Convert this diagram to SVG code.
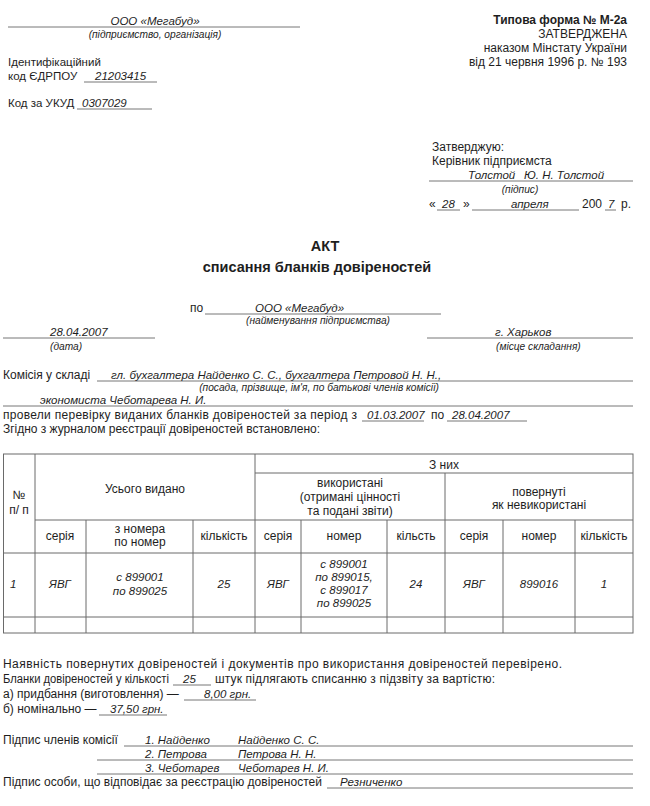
<svg xmlns="http://www.w3.org/2000/svg" width="650" height="806" viewBox="0 0 650 806">
<style>
text{font-family:"Liberation Sans",Arial,sans-serif;font-size:12px;fill:#1e1e1e}
.i{font-style:italic;font-size:11.5px}
.s{font-size:10.2px;font-style:italic}
.b{font-weight:bold}
.c{text-anchor:middle}
.r{text-anchor:end}
.h{font-size:11.5px}
.u{stroke:#666;stroke-width:0.9;fill:none}
.t{stroke:#6a6a6a;stroke-width:1;fill:none}
</style>
<rect width="650" height="806" fill="#fff"/>

<g id="header-left">
<line class="u" x1="8" y1="27" x2="300" y2="27"/>
<text class="i c" x="155" y="25">ООО «Мегабуд»</text>
<text class="s c" x="155" y="38">(підприємство, організація)</text>
<text class="h" x="8" y="66">Ідентифікаційний</text>
<text class="h" x="8" y="80">код ЄДРПОУ</text>
<line class="u" x1="84" y1="82" x2="157" y2="82"/>
<text class="i" x="95" y="80">21203415</text>
<text class="h" x="8" y="107">Код за УКУД</text>
<line class="u" x1="77" y1="109" x2="152" y2="109"/>
<text class="i" x="82" y="107">0307029</text>
</g>

<g id="header-right">
<text class="b r" x="627" y="24">Типова форма № М-2а</text>
<text class="r" x="627" y="38">ЗАТВЕРДЖЕНА</text>
<text class="r" x="627" y="52">наказом Мінстату України</text>
<text class="r" x="627" y="66">від 21 червня 1996 р. № 193</text>
</g>

<g id="approval">
<text x="432" y="151">Затверджую:</text>
<text x="432" y="165">Керівник підприємста</text>
<line class="u" x1="429" y1="181" x2="633" y2="181"/>
<text class="i" x="468" y="179">Толстой</text>
<text class="i" x="524" y="179">Ю. Н. Толстой</text>
<text class="s c" x="520" y="193">(підпис)</text>
<text x="429" y="208">«</text>
<line class="u" x1="437" y1="210" x2="460" y2="210"/>
<text class="i" x="442" y="208">28</text>
<text x="463" y="208">»</text>
<line class="u" x1="472" y1="210" x2="579" y2="210"/>
<text class="i" x="511" y="208">апреля</text>
<text x="582" y="208">200</text>
<line class="u" x1="605" y1="210" x2="616" y2="210"/>
<text class="i" x="608" y="208">7</text>
<text x="621" y="208">р.</text>
</g>

<g id="title">
<text class="b c" x="325" y="251" style="font-size:14.5px">АКТ</text>
<text class="b c" x="317" y="272" style="font-size:14.5px">списання бланків довіреностей</text>
</g>

<g id="place-date">
<text x="190" y="312">по</text>
<line class="u" x1="205" y1="314" x2="441" y2="314"/>
<text class="i" x="255" y="312">ООО «Мегабуд»</text>
<text class="s c" x="318" y="324">(найменування підприємства)</text>
<line class="u" x1="3" y1="338" x2="155" y2="338"/>
<text class="i" x="50" y="336">28.04.2007</text>
<text class="s" x="50" y="350">(дата)</text>
<line class="u" x1="427" y1="338" x2="633" y2="338"/>
<text class="i" x="495" y="336">г. Харьков</text>
<text class="s" x="496" y="350">(місце складання)</text>
</g>

<g id="commission">
<text x="3" y="379">Комісія у складі</text>
<line class="u" x1="97" y1="381" x2="633" y2="381"/>
<text class="i" x="111" y="379">гл. бухгалтера Найденко С. С., бухгалтера Петровой Н. Н.,</text>
<text class="s c" x="319" y="391">(посада, прізвище, ім'я, по батькові членів комісії)</text>
<text class="i" x="40" y="404">экономиста Чеботарева Н. И.</text>
<line class="u" x1="3" y1="406" x2="633" y2="406"/>
<text x="3" y="419" textLength="354" lengthAdjust="spacing">провели перевірку виданих бланків довіреностей за період з</text>
<line class="u" x1="362" y1="421" x2="424" y2="421"/>
<text class="i" x="367" y="419">01.03.2007</text>
<text x="431" y="419">по</text>
<line class="u" x1="447" y1="421" x2="527" y2="421"/>
<text class="i" x="452" y="419">28.04.2007</text>
<text x="3" y="433" textLength="317" lengthAdjust="spacing">Згідно з журналом реєстрації довіреностей встановлено:</text>
</g>

<g id="table">
<rect class="t" x="3.5" y="454" width="629.5" height="179"/>
<line class="t" x1="255" y1="473" x2="633" y2="473"/>
<line class="t" x1="35" y1="520" x2="633" y2="520"/>
<line class="t" x1="3.5" y1="553" x2="633" y2="553"/>
<line class="t" x1="3.5" y1="617" x2="633" y2="617"/>
<line class="t" x1="35" y1="454" x2="35" y2="633"/>
<line class="t" x1="255" y1="454" x2="255" y2="633"/>
<line class="t" x1="445" y1="473" x2="445" y2="633"/>
<line class="t" x1="86" y1="520" x2="86" y2="633"/>
<line class="t" x1="193" y1="520" x2="193" y2="633"/>
<line class="t" x1="301" y1="520" x2="301" y2="633"/>
<line class="t" x1="387" y1="520" x2="387" y2="633"/>
<line class="t" x1="503" y1="520" x2="503" y2="633"/>
<line class="t" x1="575" y1="520" x2="575" y2="633"/>

<text class="c" x="19" y="499">№</text>
<text class="c" x="19" y="514">п/ п</text>
<text class="c" x="145" y="493">Усього видано</text>
<text class="c" x="444" y="469">З них</text>
<text class="c" x="350" y="487">використані</text>
<text class="c" x="350" y="501">(отримані цінності</text>
<text class="c" x="350" y="515">та подані звіти)</text>
<text class="c" x="539" y="496">повернуті</text>
<text class="c" x="539" y="509">як невикористані</text>

<text class="c" x="60" y="540">серія</text>
<text class="c" x="140" y="533">з номера</text>
<text class="c" x="140" y="546">по номер</text>
<text class="c" x="224" y="540">кількість</text>
<text class="c" x="278" y="540">серія</text>
<text class="c" x="344" y="540">номер</text>
<text class="c" x="416" y="540">кільсть</text>
<text class="c" x="474" y="540">серія</text>
<text class="c" x="539" y="540">номер</text>
<text class="c" x="604" y="540">кількість</text>

<text class="i" x="10" y="588">1</text>
<text class="i c" x="60" y="588">ЯВГ</text>
<text class="i c" x="140" y="581">с 899001</text>
<text class="i c" x="140" y="595">по 899025</text>
<text class="i c" x="224" y="588">25</text>
<text class="i c" x="278" y="588">ЯВГ</text>
<text class="i c" x="344" y="568">с 899001</text>
<text class="i c" x="344" y="581">по 899015,</text>
<text class="i c" x="344" y="594">с 899017</text>
<text class="i c" x="344" y="607">по 899025</text>
<text class="i c" x="416" y="588">24</text>
<text class="i c" x="474" y="588">ЯВГ</text>
<text class="i c" x="539" y="588">899016</text>
<text class="i c" x="604" y="588">1</text>
</g>

<g id="conclusion">
<text x="3" y="668" textLength="559" lengthAdjust="spacing">Наявність повернутих довіреностей і документів про використання довіреностей перевірено.</text>
<text x="3" y="683" textLength="166" lengthAdjust="spacingAndGlyphs">Бланки довіреностей у кількості</text>
<line class="u" x1="173" y1="685" x2="211" y2="685"/>
<text class="i" x="183" y="683">25</text>
<text x="215" y="683" textLength="280" lengthAdjust="spacing">штук підлягають списанню з підзвіту за вартістю:</text>
<text x="3" y="698">а) придбання (виготовлення) —</text>
<line class="u" x1="184" y1="700" x2="256" y2="700"/>
<text class="i" x="204" y="698">8,00 грн.</text>
<text x="3" y="713">б) номінально —</text>
<line class="u" x1="99" y1="715" x2="167" y2="715"/>
<text class="i" x="110" y="713">37,50 грн.</text>
</g>

<g id="signatures">
<text x="3" y="744">Підпис членів комісії</text>
<line class="u" x1="124" y1="746" x2="633" y2="746"/>
<text class="i" x="145" y="744">1. Найденко</text>
<text class="i" x="238" y="744">Найденко С. С.</text>
<line class="u" x1="97" y1="760" x2="633" y2="760"/>
<text class="i" x="145" y="758">2. Петрова</text>
<text class="i" x="238" y="758">Петрова Н. Н.</text>
<line class="u" x1="97" y1="774" x2="633" y2="774"/>
<text class="i" x="145" y="772">3. Чеботарев</text>
<text class="i" x="238" y="772">Чеботарев Н. И.</text>
<text x="3" y="786" textLength="319" lengthAdjust="spacing">Підпис особи, що відповідає за реєстрацію довіреностей</text>
<line class="u" x1="327" y1="788" x2="633" y2="788"/>
<text class="i" x="340" y="786">Резниченко</text>
</g>
</svg>
